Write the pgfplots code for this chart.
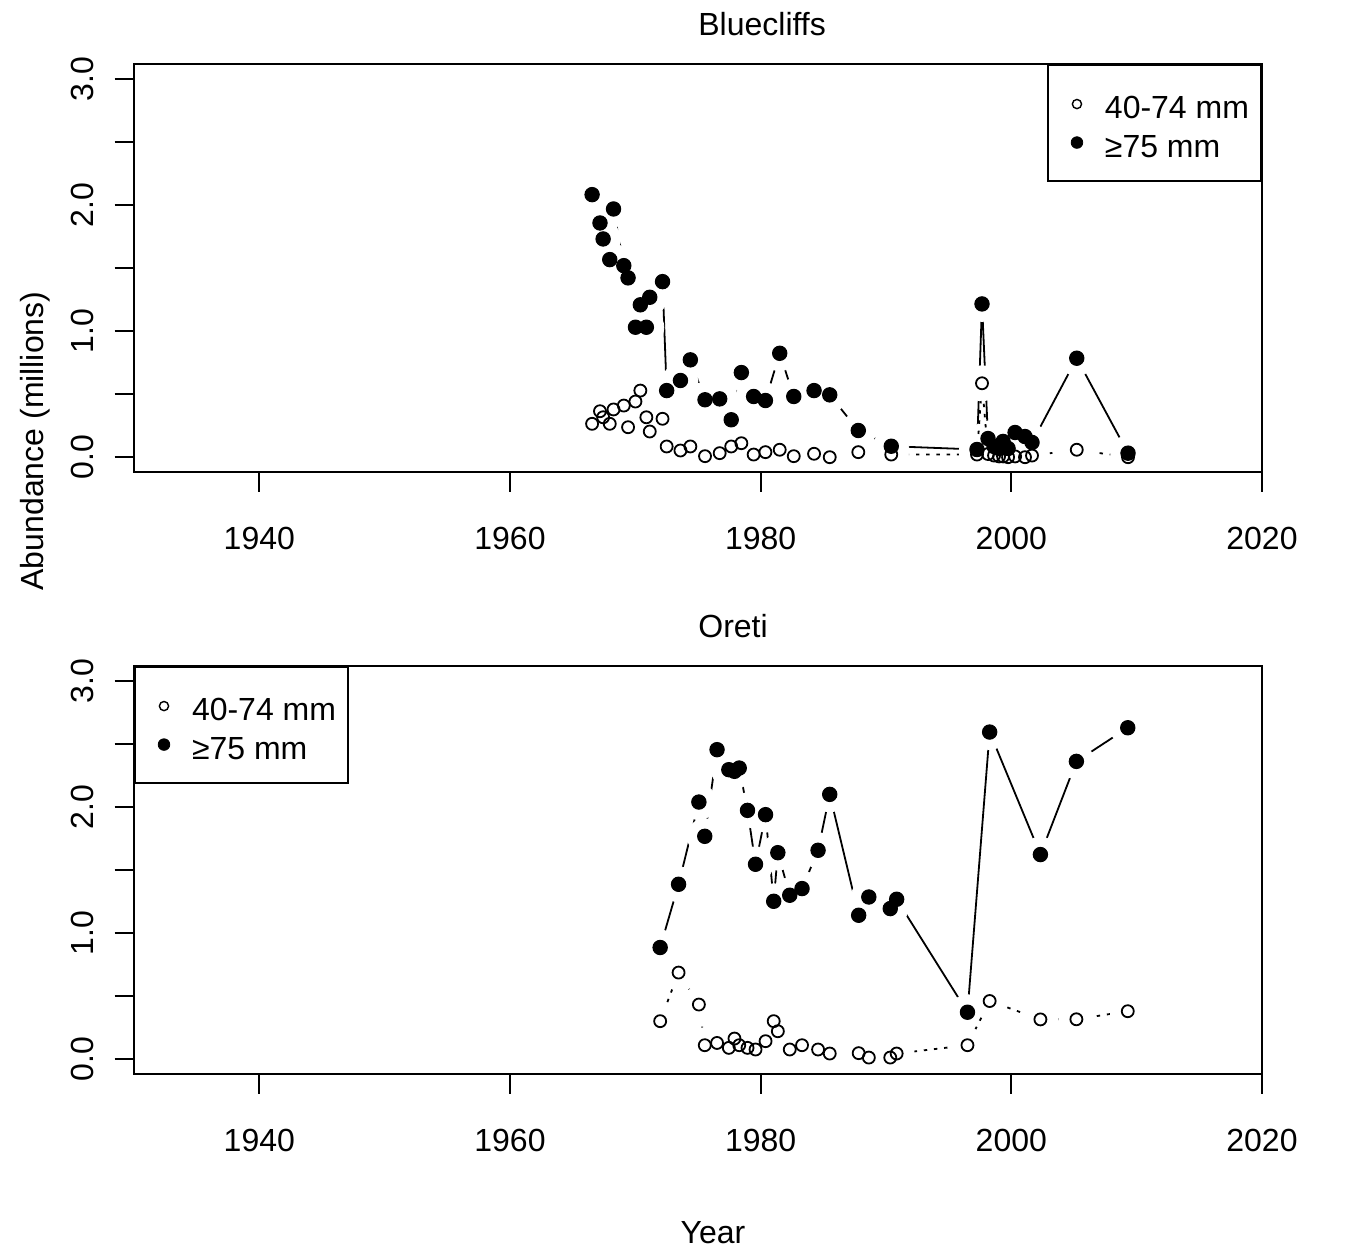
\documentclass[border=0pt]{standalone}
\usepackage{fontspec}
\setmainfont{Liberation Sans}
\usepackage{pgfplots}
\usepackage{pgfplotstable}
\pgfplotsset{compat=1.18}

% year, 40-74 mm, >=75 mm (millions)
\pgfplotstableread{
yr open big
1966.55 0.265 2.085
1967.18 0.365 1.860
1967.43 0.317 1.733
1967.96 0.265 1.569
1968.26 0.379 1.971
1969.08 0.410 1.521
1969.42 0.238 1.424
1970.01 0.442 1.032
1970.40 0.529 1.210
1970.88 0.317 1.032
1971.15 0.204 1.270
1972.17 0.305 1.394
1972.50 0.085 0.529
1973.60 0.053 0.609
1974.39 0.085 0.773
1975.56 0.008 0.456
1976.73 0.032 0.463
1977.65 0.085 0.297
1978.46 0.111 0.672
1979.44 0.021 0.482
1980.38 0.040 0.450
1981.52 0.059 0.825
1982.64 0.008 0.482
1984.26 0.027 0.529
1985.51 0.000 0.495
1987.79 0.040 0.212
1990.42 0.021 0.087
1997.26 0.021 0.061
1997.66 0.587 1.217
1998.14 0.025 0.148
1998.62 0.013 0.085
1999.02 0.006 0.069
1999.34 0.006 0.125
1999.74 0.000 0.069
2000.30 0.006 0.196
2001.09 0.000 0.164
2001.65 0.013 0.117
2005.22 0.059 0.786
2009.31 0.000 0.032
}\bluecliffs

\pgfplotstableread{
yr open big
1971.98 0.302 0.887
1973.45 0.688 1.389
1975.07 0.434 2.042
1975.54 0.111 1.770
1976.52 0.129 2.458
1977.46 0.090 2.299
1977.91 0.164 2.286
1978.29 0.111 2.312
1978.95 0.090 1.976
1979.59 0.077 1.548
1980.39 0.143 1.942
1981.04 0.302 1.254
1981.37 0.222 1.640
1982.32 0.077 1.302
1983.30 0.111 1.355
1984.58 0.077 1.659
1985.51 0.045 2.103
1987.82 0.048 1.143
1988.63 0.013 1.288
1990.34 0.013 1.196
1990.85 0.045 1.270
1996.50 0.111 0.373
1998.27 0.462 2.598
2002.32 0.316 1.625
2005.19 0.317 2.365
2009.29 0.381 2.632
}\oreti

\newcommand{\bigfont}{\fontsize{16}{19}\selectfont}

\pgfplotsset{
  panel/.style={
    scale only axis, width=564pt, height=204pt,
    xmin=1930, xmax=2020, ymin=-0.12, ymax=3.12,
    axis on top, clip marker paths=true,
    xtick={1940,1960,1980,2000,2020},
    xticklabels={1940,1960,1980,2000,2020},
    ytick={0,0.5,1,1.5,2,2.5,3},
    yticklabels={0.0,,1.0,,2.0,,3.0},
    tick pos=left, tick align=outside, major tick length=9.75pt,
    tick style={line width=1pt, black},
    axis line style={line width=1pt},
    ticklabel style={font=\bigfont, inner sep=0pt},
    xticklabel style={anchor=base}, xticklabel shift=28.6pt,
    yticklabel style={rotate=90, anchor=base}, yticklabel shift=10.4pt,
    title style={font=\bigfont, at={(0.5,1)}, anchor=base west, inner sep=0pt, yshift=8.3pt},
    legend image code/.code={\path[draw=none, fill=none] (0pt,-4pt) rectangle (22.5pt,4pt);
      \draw[#1] plot coordinates {(8.5pt,0pt)};},
    legend cell align=left,
  },
  bigline/.style={black, line width=0.9pt, no marks, forget plot},
  smallline/.style={black, line width=0.9pt, dash pattern=on 1.7pt off 3.4pt, no marks, forget plot},
  halo/.style={only marks, mark=*, white, mark size=8.75pt, forget plot},
  openpts/.style={only marks, mark=o, mark size=3.0pt, mark options={black, line width=0.9pt}, forget plot},
  fullpts/.style={only marks, mark=*, mark size=3.6pt, mark options={black, fill=black, line width=0.5pt}, forget plot},
  boxlegend/.style={legend style={draw=black, line width=1pt, inner xsep=6pt, inner ysep=12pt,
    row sep=4.5pt, column sep=0pt, font=\bigfont,
    nodes={inner sep=0pt, text height=14.75pt, text depth=0pt}}},
}

\begin{document}
\begin{tikzpicture}
\path[use as bounding box] (0pt,0pt) rectangle (676.5pt,624.5pt);

\begin{axis}[panel, at={(67pt,388.35pt)}, anchor=south west,
  title={Bluecliffs}, boxlegend,
  legend style={at={(1,1)}, anchor=north east}]
  \addplot[bigline] table[x=yr, y=big] {\bluecliffs};
  \addplot[halo] table[x=yr, y=big] {\bluecliffs};
  \addplot[smallline] table[x=yr, y=open] {\bluecliffs};
  \addplot[halo] table[x=yr, y=open] {\bluecliffs};
  \addplot[openpts] table[x=yr, y=open] {\bluecliffs};
  \addplot[fullpts] table[x=yr, y=big] {\bluecliffs};
  \addlegendimage{only marks, mark=o, mark size=2.3pt, mark options={black, line width=0.7pt}}
  \addlegendentry{40-74 mm}
  \addlegendimage{only marks, mark=*, mark size=2.9pt, mark options={black, fill=black, line width=0.4pt}}
  \addlegendentry{≥75 mm}
\end{axis}

\begin{axis}[panel, at={(67pt,87.35pt)}, anchor=south west,
  title={Oreti}, boxlegend,
  legend style={at={(0,1)}, anchor=north west}]
  \addplot[bigline] table[x=yr, y=big] {\oreti};
  \addplot[halo] table[x=yr, y=big] {\oreti};
  \addplot[smallline] table[x=yr, y=open] {\oreti};
  \addplot[halo] table[x=yr, y=open] {\oreti};
  \addplot[openpts] table[x=yr, y=open] {\oreti};
  \addplot[fullpts] table[x=yr, y=big] {\oreti};
  \addlegendimage{only marks, mark=o, mark size=2.3pt, mark options={black, line width=0.7pt}}
  \addlegendentry{40-74 mm}
  \addlegendimage{only marks, mark=*, mark size=2.9pt, mark options={black, fill=black, line width=0.4pt}}
  \addlegendentry{≥75 mm}
\end{axis}

\node[rotate=90, anchor=base, inner sep=0pt, font=\bigfont] at (21.5pt,404pt) {Abundance (millions)};
\node[anchor=base, inner sep=0pt, font=\bigfont] at (356.5pt,3pt) {Year};
\end{tikzpicture}
\end{document}
